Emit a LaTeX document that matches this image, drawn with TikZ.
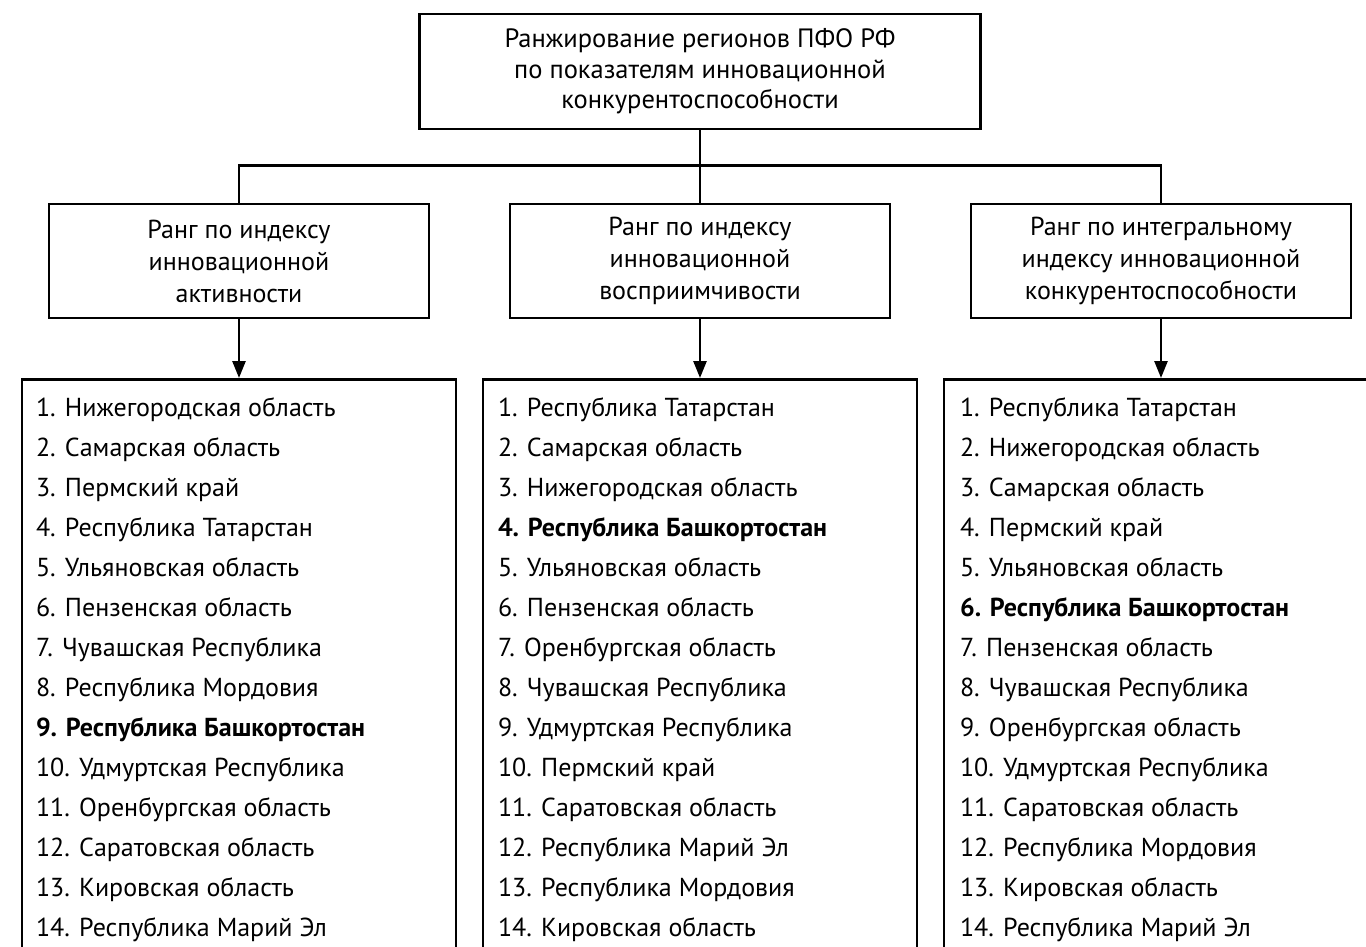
\documentclass[tikz,border=0pt]{standalone}
\usepackage{fontspec}
\setmainfont{PT Sans}
\usetikzlibrary{arrows.meta,positioning}
\tikzset{every picture/.style={line width=2.6pt}}

\begin{document}
\begin{tikzpicture}[
    x=1pt, y=-1pt,
    topbox/.style={
        rectangle, draw, inner sep=0pt, minimum width=561pt,
        minimum height=115pt, align=center, font=\fontsize{26.5}{30.5}\selectfont
    },
    rankbox/.style={
        rectangle, draw, inner sep=0pt, minimum width=380pt,
        minimum height=114pt, align=center, font=\fontsize{26}{32}\selectfont
    },
    listbox/.style={   % open at the bottom: cut by the clip
        rectangle, draw, inner sep=0pt, minimum width=434pt,
        minimum height=640pt, anchor=north
    },
    rankitem/.style={
        anchor=base west, inner sep=0pt, font=\fontsize{26}{30}\selectfont
    },
    arr/.style={-{Triangle[length=17pt,width=13pt]}},
]

\clip (0,0) rectangle (1366,946);

%% ===================== BOXES =====================
\node[topbox] (rank) at (700,71.5)
  {Ранжирование регионов ПФО РФ\\по показателям инновационной\\конкурентоспособности};

\node[rankbox] (act) at (239,261)
  {Ранг по индексу\\инновационной\\активности};
\node[rankbox] (perc) at (700,261)
  {Ранг по индексу\\инновационной\\восприимчивости};
\node[rankbox] (integ) at (1161,261)
  {Ранг по интегральному\\индексу инновационной\\конкурентоспособности};

\node[listbox] (lact) at (239,378) {};
\node[listbox] (lperc) at (700,378) {};
\node[listbox] (linteg) at (1161,378) {};

%% ===================== CONNECTORS =====================
\draw (rank.south) -- (perc.north);
\draw (act.north) -- ++(0,-37) -| (integ.north);

\draw[arr] (act.south) -- (lact.north);
\draw[arr] (perc.south) -- (lperc.north);
\draw[arr] (integ.south) -- (linteg.north);

%% ===================== LISTS =====================
\foreach [count=\k] \txt in {
  1. Нижегородская область, 2. Самарская область, 3. Пермский край,
  4. Республика Татарстан, 5. Ульяновская область, 6. Пензенская область,
  7. Чувашская Республика, 8. Республика Мордовия,
  {\bfseries 9. Республика Башкортостан}, 10. Удмуртская Республика,
  11. Оренбургская область, 12. Саратовская область,
  13. Кировская область, 14. Республика Марий Эл} {
  \node[rankitem] (act-\k) at ([shift={(14,{38+40*(\k-1)})}]lact.north west) {\txt};
}

\foreach [count=\k] \txt in {
  1. Республика Татарстан, 2. Самарская область, 3. Нижегородская область,
  {\bfseries 4. Республика Башкортостан}, 5. Ульяновская область,
  6. Пензенская область, 7. Оренбургская область, 8. Чувашская Республика,
  9. Удмуртская Республика, 10. Пермский край, 11. Саратовская область,
  12. Республика Марий Эл, 13. Республика Мордовия, 14. Кировская область} {
  \node[rankitem] (perc-\k) at ([shift={(15,{38+40*(\k-1)})}]lperc.north west) {\txt};
}

\foreach [count=\k] \txt in {
  1. Республика Татарстан, 2. Нижегородская область, 3. Самарская область,
  4. Пермский край, 5. Ульяновская область,
  {\bfseries 6. Республика Башкортостан}, 7. Пензенская область,
  8. Чувашская Республика, 9. Оренбургская область,
  10. Удмуртская Республика, 11. Саратовская область,
  12. Республика Мордовия, 13. Кировская область, 14. Республика Марий Эл} {
  \node[rankitem] (integ-\k) at ([shift={(16,{38+40*(\k-1)})}]linteg.north west) {\txt};
}

\end{tikzpicture}
\end{document}
